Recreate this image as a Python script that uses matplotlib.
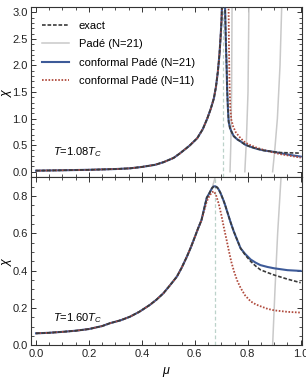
import numpy as np
import matplotlib.pyplot as plt
from matplotlib.ticker import MultipleLocator

plt.rcParams['font.family'] = ['Liberation Sans', 'DejaVu Sans']
plt.rcParams['mathtext.fontset'] = 'custom'
plt.rcParams['mathtext.it'] = 'Liberation Sans:italic'
plt.rcParams['mathtext.rm'] = 'Liberation Sans'

# ---- T = 1.08 Tc (top panel) ----
mu_top_exact = [0.0, 0.1, 0.2, 0.3, 0.356, 0.4, 0.45, 0.482, 0.52, 0.545, 0.58, 0.609, 0.63,
                0.647, 0.66, 0.672, 0.68, 0.687, 0.693, 0.697, 0.701, 0.704,
                0.713, 0.717, 0.72, 0.722, 0.725, 0.728, 0.733, 0.74, 0.747, 0.76, 0.773,
                0.79, 0.81, 0.835, 0.861, 0.89, 0.924, 0.96, 1.0]
chi_top_exact = [0.02, 0.027, 0.036, 0.05, 0.064, 0.09, 0.13, 0.18, 0.26, 0.35, 0.49, 0.63, 0.8,
                 1.0, 1.18, 1.38, 1.6, 1.88, 2.2, 2.5, 2.85, 3.4,
                 3.4, 2.5, 2.0, 1.58, 1.2, 0.94, 0.82, 0.74, 0.67, 0.61, 0.57,
                 0.51, 0.47, 0.43, 0.40, 0.38, 0.36, 0.355, 0.35]

mu_top_cp21 = mu_top_exact
chi_top_cp21 = chi_top_exact[:-3] + [0.35, 0.315, 0.285]

mu_top_cp11 = mu_top_exact[:22] + [0.727, 0.729, 0.731, 0.734, 0.738, 0.745, 0.755, 0.773,
                                   0.79, 0.81, 0.835, 0.861, 0.89, 0.924, 0.96, 1.0]
chi_top_cp11 = chi_top_exact[:22] + [3.4, 2.4, 1.7, 1.2, 0.98, 0.85, 0.74, 0.63,
                                     0.55, 0.5, 0.45, 0.41, 0.37, 0.33, 0.3, 0.265]

pade_top_segments = [
    (mu_top_exact[:22], chi_top_exact[:22]),
    ([0.741, 0.739, 0.736, 0.733], [3.4, 1.5, 0.5, 0.0]),
    ([0.805, 0.801, 0.795, 0.789], [3.4, 1.5, 0.6, 0.0]),
    ([0.93, 0.922, 0.912, 0.902, 0.894], [3.4, 2.0, 1.0, 0.4, 0.0]),
]
mu_crit_top = 0.707

# ---- T = 1.60 Tc (bottom panel) ----
mu_bot_exact = [0.0, 0.05, 0.1, 0.15, 0.2, 0.25, 0.279, 0.32, 0.355, 0.39, 0.43, 0.455, 0.481,
                0.505, 0.532, 0.55, 0.57, 0.585, 0.6, 0.612, 0.625, 0.635, 0.645, 0.655,
                0.665, 0.672, 0.678, 0.685, 0.69, 0.697, 0.703, 0.71, 0.716, 0.722, 0.735,
                0.747, 0.76, 0.773, 0.79, 0.811, 0.83, 0.848, 0.875, 0.9, 0.95, 1.0]
chi_bot_exact = [0.065, 0.068, 0.073, 0.079, 0.088, 0.104, 0.119, 0.135, 0.154, 0.18, 0.217, 0.245,
                 0.279, 0.32, 0.368, 0.415, 0.475, 0.525, 0.58, 0.625, 0.67, 0.73, 0.79, 0.815,
                 0.842, 0.852, 0.851, 0.845, 0.835, 0.816, 0.795, 0.77, 0.745, 0.718, 0.66,
                 0.611, 0.565, 0.52, 0.485, 0.45, 0.425, 0.405, 0.39, 0.377, 0.355, 0.336]

mu_bot_cp21 = mu_bot_exact[:38] + [0.79, 0.811, 0.83, 0.848, 0.875, 0.9, 0.95, 1.0]
chi_bot_cp21 = chi_bot_exact[:38] + [0.49, 0.46, 0.443, 0.43, 0.42, 0.413, 0.403, 0.399]

mu_bot_cp11 = mu_bot_exact[:21] + [0.635, 0.645, 0.655, 0.665, 0.672, 0.68, 0.69, 0.7,
                                   0.71, 0.72, 0.729, 0.738, 0.748, 0.76, 0.773, 0.79,
                                   0.811, 0.83, 0.848, 0.875, 0.9, 0.95, 1.0]
chi_bot_cp11 = chi_bot_exact[:21] + [0.72, 0.77, 0.8, 0.82, 0.825, 0.805, 0.76, 0.7,
                                     0.63, 0.565, 0.504, 0.447, 0.397, 0.348, 0.308, 0.268,
                                     0.236, 0.22, 0.21, 0.196, 0.188, 0.18, 0.176]

pade_bot_segments = [
    (mu_bot_exact[:25] + [0.671, 0.678, 0.684], chi_bot_exact[:25] + [0.87, 0.905, 0.95]),
    ([0.894, 0.903, 0.913, 0.928], [0.0, 0.3, 0.6, 0.95]),
]
mu_crit_bot = 0.678

labels = ['exact', 'Padé (N=21)', 'conformal Padé (N=21)', 'conformal Padé (N=11)']
c_exact, c_pade, c_cp21, c_cp11, c_crit = '#3a3a3a', '#c9c9c9', '#3d5a98', '#b04a3c', '#bcd2ca'

fig = plt.figure(figsize=(3.06, 3.81), dpi=100)
ax1 = fig.add_axes([0.1013, 0.5362, 0.8856, 0.4454])
ax2 = fig.add_axes([0.1013, 0.0932, 0.8856, 0.4430], sharex=ax1)


def draw(ax, pade, crit, mu_e, chi_e, mu_b, chi_b, mu_r, chi_r):
    ax.axvline(crit, color=c_crit, lw=0.9, ls=(0, (3, 2)), zorder=1)
    hp = None
    for m, c in pade:
        hp, = ax.plot(m, c, color=c_pade, lw=1.1, zorder=2)
    hb, = ax.plot(mu_b, chi_b, color=c_cp21, lw=1.5, zorder=3)
    hr, = ax.plot(mu_r, chi_r, color=c_cp11, lw=1.3, ls=(0, (0.9, 0.9)), zorder=4)
    he, = ax.plot(mu_e, chi_e, color=c_exact, lw=1.2, ls=(0, (2.2, 1.1)), zorder=5)
    return he, hp, hb, hr


handles = draw(ax1, pade_top_segments, mu_crit_top, mu_top_exact, chi_top_exact,
               mu_top_cp21, chi_top_cp21, mu_top_cp11, chi_top_cp11)
draw(ax2, pade_bot_segments, mu_crit_bot, mu_bot_exact, chi_bot_exact,
     mu_bot_cp21, chi_bot_cp21, mu_bot_cp11, chi_bot_cp11)

ax1.set_xlim(-0.019, 1.005)
ax1.set_ylim(-0.094, 3.1)
ax2.set_ylim(0, 0.903)

ax1.xaxis.set_major_locator(MultipleLocator(0.2))
ax1.xaxis.set_minor_locator(MultipleLocator(0.05))
ax1.yaxis.set_major_locator(MultipleLocator(0.5))
ax1.yaxis.set_minor_locator(MultipleLocator(0.1))
ax2.yaxis.set_major_locator(MultipleLocator(0.2))
ax2.yaxis.set_minor_locator(MultipleLocator(0.05))

for ax in (ax1, ax2):
    ax.tick_params(which='both', direction='in', top=True, right=True, labelsize=8,
                   color='#333333', labelcolor='#222222', pad=2.5)
    ax.tick_params(which='major', length=3.5, width=0.7)
    ax.tick_params(which='minor', length=2, width=0.6)
    for s in ax.spines.values():
        s.set_color('#333333')
        s.set_linewidth(0.8)
    ax.set_ylabel(r'$\chi$', fontsize=9)
    ax.yaxis.set_label_coords(-0.064, 0.5)

ax1.tick_params(labelbottom=False)
ax1.yaxis.set_major_formatter(plt.FuncFormatter(lambda v, p: f'{v:.1f}'))
ax2.xaxis.set_major_formatter(plt.FuncFormatter(lambda v, p: f'{v:.1f}'))
ax2.yaxis.set_major_formatter(plt.FuncFormatter(lambda v, p: f'{v:.1f}'))
ax2.set_xlabel(r'$\mu$', fontsize=9, labelpad=4)

ax1.text(0.081, 0.146, r'$T$=1.08$T_C$', transform=ax1.transAxes, fontsize=8, va='center')
ax2.text(0.081, 0.163, r'$T$=1.60$T_C$', transform=ax2.transAxes, fontsize=8, va='center')

ax1.legend(handles, labels, loc='upper left', bbox_to_anchor=(0.04, 0.918), frameon=False,
           fontsize=8, handlelength=2.4, handletextpad=0.9, labelspacing=0.75,
           borderpad=0, borderaxespad=0)

fig.savefig('out.png', dpi=100)
